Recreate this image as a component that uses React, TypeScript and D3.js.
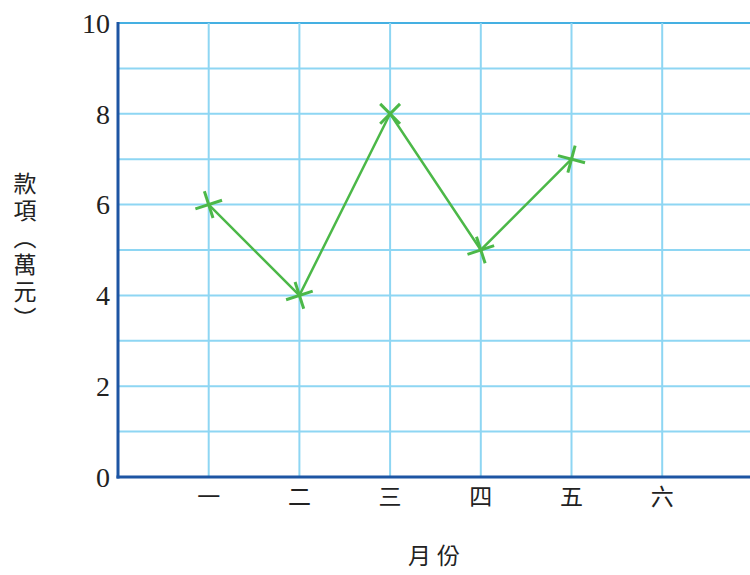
import React from "react";
import * as d3 from "d3";

const months = ["一", "二", "三", "四", "五", "六"];
const values = [6, 4, 8, 5, 7];
const markerTilts = [-18, -18, 45, -18, 15];
const yTicks = [0, 2, 4, 6, 8, 10];
const yTitle = "款項（萬元）";
const xTitle = "月份";

const width = 750;
const height = 575;
const left = 118;
const top = 23;
const bottom = 477;

const App = () => {
  const x = d3.scaleLinear().domain([0, 7]).range([left, left + 90.7 * 7]);
  const y = d3.scaleLinear().domain([0, 10]).range([bottom, top]);

  const line = d3
    .line<number>()
    .x((d, i) => x(i + 1))
    .y((d) => y(d));

  const cjk = "'Noto Sans CJK TC', 'Noto Sans CJK SC', sans-serif";
  const serif = "'Liberation Serif', 'DejaVu Serif', serif";

  return (
    <svg
      width={width}
      height={height}
      style={{ position: "absolute", left: 0, top: 0, background: "#fff" }}
    >
      {/* horizontal grid */}
      {d3.range(1, 11).map((v) => (
        <line
          key={"h" + v}
          x1={left}
          x2={width}
          y1={y(v)}
          y2={y(v)}
          stroke={v === 10 ? "#45b0e2" : "#8ed6f3"}
          strokeWidth={2}
        />
      ))}
      {/* vertical grid */}
      {months.map((m, i) => (
        <line
          key={"v" + m}
          x1={x(i + 1)}
          x2={x(i + 1)}
          y1={top}
          y2={bottom}
          stroke="#8ed6f3"
          strokeWidth={2}
        />
      ))}

      {/* axes */}
      <line x1={left} x2={left} y1={top - 1} y2={bottom + 1.5} stroke="#1d55a3" strokeWidth={3} />
      <line x1={left - 1.5} x2={width} y1={bottom} y2={bottom} stroke="#1d55a3" strokeWidth={3} />

      {/* y tick labels */}
      {yTicks.map((t) => (
        <text
          key={"yt" + t}
          x={left - 8}
          y={y(t)}
          dy="0.35em"
          textAnchor="end"
          fontFamily={serif}
          fontSize={28}
          fill="#222"
        >
          {t}
        </text>
      ))}

      {/* x tick labels */}
      {months.map((m, i) => (
        <text
          key={"xt" + m}
          x={x(i + 1)}
          y={497}
          dy="0.35em"
          textAnchor="middle"
          fontFamily={cjk}
          fontSize={23}
          fill="#222"
        >
          {m}
        </text>
      ))}

      {/* line */}
      <path d={line(values) || ""} fill="none" stroke="#4cb848" strokeWidth={2.5} />
      {values.map((v, i) => (
        <g
          key={"m" + i}
          transform={`translate(${x(i + 1)},${y(v)}) rotate(${markerTilts[i]})`}
          stroke="#4cb848"
          strokeWidth={3}
        >
          <line x1={-14} x2={14} y1={0} y2={0} />
          <line x1={0} x2={0} y1={-14} y2={14} />
        </g>
      ))}

      {/* y title */}
      <text
        x={25}
        y={172}
        style={{ writingMode: "vertical-rl" }}
        fontFamily={cjk}
        fontSize={23}
        fill="#222"
        letterSpacing={4}
      >
        {yTitle}
      </text>

      {/* x title */}
      <text
        x={437}
        y={556}
        dy="0.35em"
        textAnchor="middle"
        fontFamily={cjk}
        fontSize={23}
        fill="#222"
        letterSpacing={6}
      >
        {xTitle}
      </text>
    </svg>
  );
};

export default App;
